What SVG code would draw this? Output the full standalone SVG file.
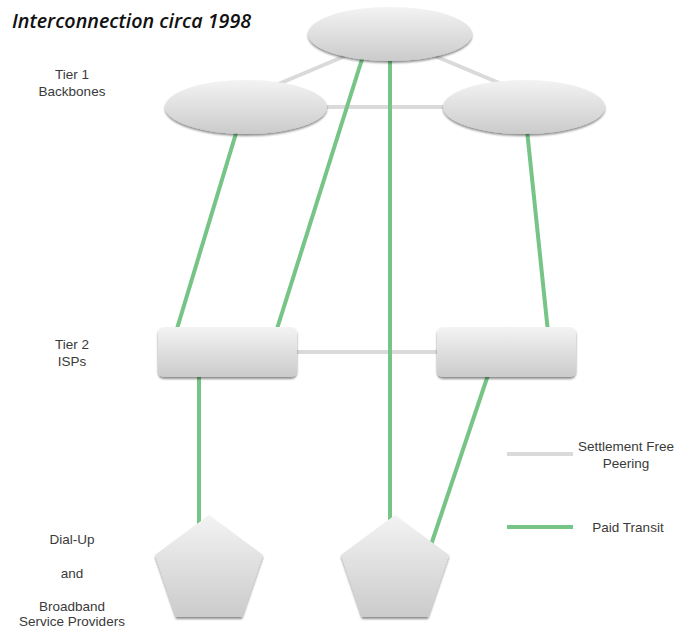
<svg xmlns="http://www.w3.org/2000/svg" width="681" height="628" viewBox="0 0 681 628">
  <style>
    .lbl { font-family: "Liberation Sans", Arial, sans-serif; font-size: 13.5px; fill: #3a3a3a; text-anchor: middle; }
    .title { font-family: "Open Sans", "Liberation Sans", sans-serif; font-size: 19.7px; font-style: italic; font-weight: 600; fill: #111; }
    .peer { stroke: #dadada; stroke-width: 4; fill: none; }
    .transit { stroke: #77c487; stroke-width: 4; fill: none; }
    .node { fill: url(#grad); filter: url(#shadow); }
  </style>
  <defs>
    <linearGradient id="grad" x1="0" y1="0" x2="0" y2="1">
      <stop offset="0" stop-color="#f3f3f3"/>
      <stop offset="1" stop-color="#cbcbcb"/>
    </linearGradient>
    <filter id="shadow" x="-10%" y="-10%" width="120%" height="130%">
      <feGaussianBlur in="SourceAlpha" stdDeviation="1.2"/>
      <feOffset dx="0" dy="1.5" result="b"/>
      <feComponentTransfer><feFuncA type="linear" slope="0.45"/></feComponentTransfer>
      <feMerge><feMergeNode/><feMergeNode in="SourceGraphic"/></feMerge>
    </filter>
  </defs>

  <rect width="681" height="628" fill="#ffffff"/>

  <text class="title" x="12" y="28">Interconnection circa 1998</text>

  <g id="labels">
    <text class="lbl" x="72" y="79">Tier 1</text>
    <text class="lbl" x="72" y="96">Backbones</text>
    <text class="lbl" x="72" y="349">Tier 2</text>
    <text class="lbl" x="72" y="366">ISPs</text>
    <text class="lbl" x="72" y="544">Dial-Up</text>
    <text class="lbl" x="72" y="578">and</text>
    <text class="lbl" x="72" y="611">Broadband</text>
    <text class="lbl" x="72" y="626">Service Providers</text>
  </g>

  <g id="connectors">
    <line class="peer" x1="276" y1="85" x2="345" y2="56"/>
    <line class="peer" x1="435" y1="56" x2="504" y2="85"/>
    <line class="peer" x1="320" y1="107" x2="450" y2="107"/>
    <line class="peer" x1="290" y1="352" x2="444" y2="352"/>
    <line class="transit" x1="237" y1="130" x2="176" y2="332"/>
    <line class="transit" x1="363" y1="56" x2="276" y2="332"/>
    <line class="transit" x1="390" y1="56" x2="390" y2="525"/>
    <line class="transit" x1="527" y1="130" x2="548" y2="332"/>
    <line class="transit" x1="199" y1="372" x2="199" y2="525"/>
    <line class="transit" x1="489" y1="372" x2="431" y2="545"/>
  </g>

  <g id="tier1-top"><ellipse class="node" cx="390" cy="34" rx="82" ry="27"/></g>
  <g id="tier1-left"><ellipse class="node" cx="246" cy="107" rx="81" ry="27"/></g>
  <g id="tier1-right"><ellipse class="node" cx="524" cy="107" rx="81" ry="27"/></g>

  <g id="tier2-left"><rect class="node" x="158" y="327" width="139" height="50" rx="6"/></g>
  <g id="tier2-right"><rect class="node" x="437" y="327" width="139" height="50" rx="6"/></g>

  <g id="isp-left"><polygon class="node" points="209,515 263,555 242,617 176,617 155,555"/></g>
  <g id="isp-right"><polygon class="node" points="395,515 449,555 428,617 362,617 341,555"/></g>

  <g id="legend">
    <line class="peer" x1="507" y1="454" x2="573" y2="454"/>
    <line class="transit" x1="507" y1="527" x2="573" y2="527"/>
    <text class="lbl" x="626" y="451">Settlement Free</text>
    <text class="lbl" x="626" y="468">Peering</text>
    <text class="lbl" x="628" y="532">Paid Transit</text>
  </g>
</svg>
